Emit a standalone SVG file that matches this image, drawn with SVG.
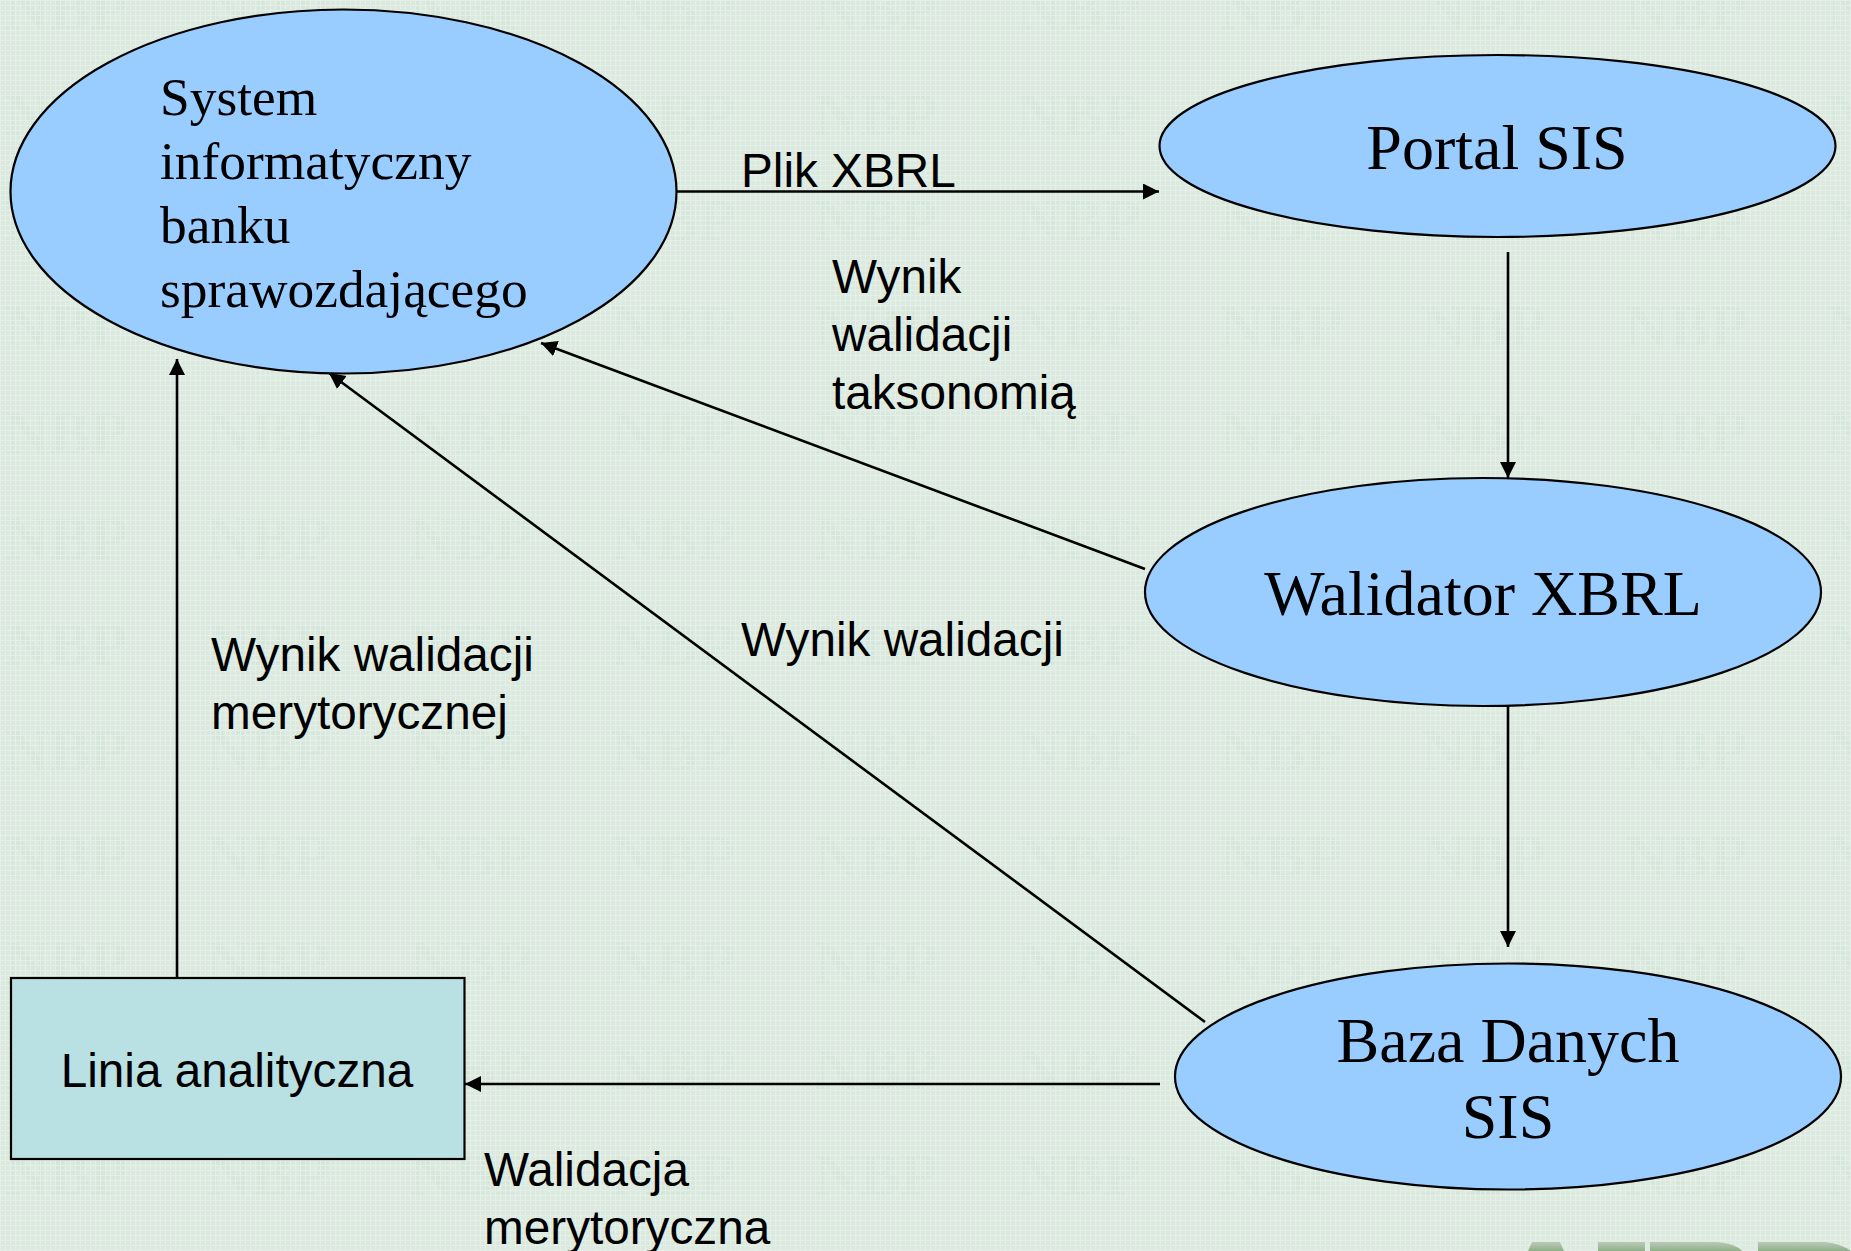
<svg xmlns="http://www.w3.org/2000/svg" width="1851" height="1251" viewBox="0 0 1851 1251">
<style>
.n{fill:#99ccff;stroke:#000;stroke-width:2.2}
.r{fill:#b9e0e3;stroke:#000;stroke-width:2.2}
.s{font-family:"Liberation Serif",serif;fill:#000}
.a{font-family:"Liberation Sans",Arial,sans-serif;font-size:47.7px;fill:#000}
.c{fill:none;stroke:#000;stroke-width:2.6;marker-end:url(#ah)}
.w{font-family:"Liberation Serif",serif;font-size:62px;font-weight:bold;fill:#d7e6db}
.g{stroke:#e4f0e7;stroke-width:1;fill:none}
</style>
<defs>
<marker id="ah" markerUnits="userSpaceOnUse" markerWidth="18" markerHeight="18" refX="16" refY="8" orient="auto"><path d="M0 0L16 8L0 16Z" fill="#000"/></marker>
<pattern id="wm" width="202.500" height="106" patternUnits="userSpaceOnUse" x="0" y="-53"><text class="w" x="4" y="82">NBP</text></pattern>
<pattern id="gr" width="5" height="5" patternUnits="userSpaceOnUse"><path class="g" d="M0 .5H5M.5 0V5"/></pattern>
<linearGradient id="lg" x1="0" y1="0" x2="0" y2="1"><stop offset="0" stop-color="#bcc9b8"/><stop offset="1" stop-color="#8fb088"/></linearGradient>
</defs>
<rect width="1851" height="1251" fill="#dbe9de"/>
<rect width="1851" height="1251" fill="url(#wm)"/>
<rect width="1851" height="1251" fill="url(#gr)"/>
<path d="M1528 1251L1532 1242H1560L1564 1251ZM1598 1251V1242H1645V1251ZM1650 1251V1242H1715Q1735 1243 1742 1251ZM1758 1251V1242H1825Q1842 1244 1851 1251Z" fill="url(#lg)"/>
<g id="connectors">
<path class="c" d="M677 191.500H1159"/>
<path class="c" d="M1508 252V478"/>
<path class="c" d="M1145 569L541 343"/>
<path class="c" d="M1508 706V947"/>
<path class="c" d="M1205 1022L329 373"/>
<path class="c" d="M1160 1084H465"/>
<path class="c" d="M177 977V359"/>
</g>
<g id="sys"><ellipse class="n" cx="343.500" cy="191.500" rx="333" ry="182"/>
<text class="s" font-size="53.400" x="160" y="115">System</text><text class="s" font-size="53.400" x="160" y="179">informatyczny</text><text class="s" font-size="53.400" x="160" y="243">banku</text><text class="s" font-size="53.400" x="160" y="307">sprawozdającego</text></g>
<g id="portal"><ellipse class="n" cx="1497.500" cy="146" rx="338" ry="91"/><text class="s" font-size="64" x="1497" y="169" text-anchor="middle">Portal SIS</text></g>
<g id="walidator"><ellipse class="n" cx="1483" cy="592" rx="338" ry="114"/><text class="s" font-size="64" x="1483" y="615" text-anchor="middle">Walidator XBRL</text></g>
<g id="baza"><ellipse class="n" cx="1508" cy="1076.500" rx="333" ry="113"/><text class="s" font-size="64" x="1508" y="1062" text-anchor="middle">Baza Danych</text><text class="s" font-size="64" x="1508" y="1138" text-anchor="middle">SIS</text></g>
<g id="linia"><rect class="r" x="11" y="978" width="453.500" height="181"/><text class="a" x="237" y="1087" text-anchor="middle">Linia analityczna</text></g>
<g id="labels">
<text class="a" x="741" y="187">Plik XBRL</text>
<text class="a" x="832" y="293">Wynik</text><text class="a" x="832" y="351">walidacji</text><text class="a" x="832" y="409">taksonomią</text>
<text class="a" x="741" y="656">Wynik walidacji</text>
<text class="a" x="211" y="671">Wynik walidacji</text><text class="a" x="211" y="729">merytorycznej</text>
<text class="a" x="484" y="1186">Walidacja</text><text class="a" x="484" y="1244">merytoryczna</text>
</g>
</svg>
